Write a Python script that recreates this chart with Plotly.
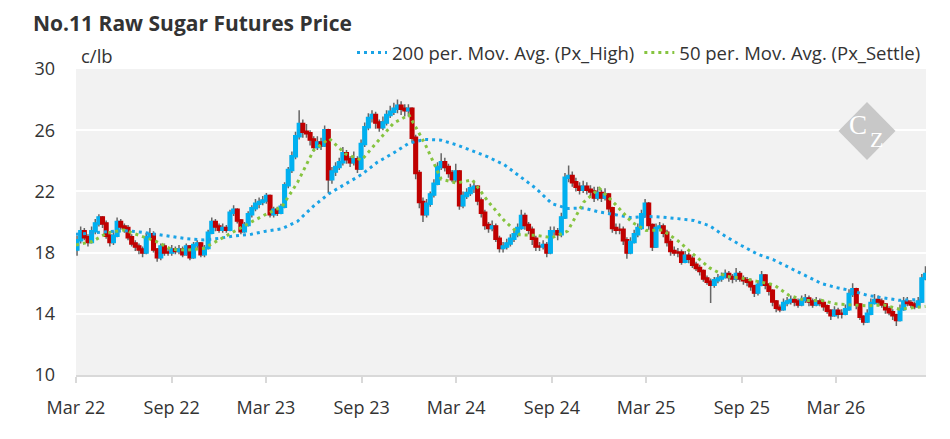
import pandas as pd
import plotly.graph_objects as go

# ---------------- data (weekly candles) ----------------
week_start = "2022-03-03"

open_ = [18.2,18.8,19.4,19.0,18.7,19.4,19.9,20.3,19.9,19.1,18.7,19.1,20.0,19.7,19.6,19.0,18.6,18.4,18.2,18.0,
         19.0,19.2,18.2,17.7,18.4,18.0,18.0,18.2,18.1,18.2,17.9,18.4,17.7,18.5,18.6,17.9,18.3,19.3,20.0,19.7,
         19.5,19.6,19.5,20.6,20.8,20.1,19.4,19.8,20.5,20.9,21.2,21.3,21.4,21.7,20.5,20.8,20.6,21.0,22.4,23.4,
         24.3,25.6,26.4,25.9,25.8,25.4,24.9,25.2,25.0,26.0,22.8,23.3,23.6,23.9,24.5,24.1,23.9,24.1,23.5,25.1,
         26.2,26.8,27.0,26.5,26.2,26.5,27.0,27.2,27.4,27.6,27.4,27.3,27.4,25.5,23.2,21.3,20.5,21.2,21.8,22.5,
         23.6,23.9,23.6,23.2,22.8,23.3,21.1,21.7,21.9,22.2,22.3,21.4,20.6,19.8,19.6,19.7,18.9,18.3,18.4,18.6,
         18.9,19.2,19.6,20.4,19.8,19.5,18.9,18.4,18.4,18.5,18.0,19.4,19.4,19.2,20.3,22.9,23.0,22.6,22.3,22.1,
         22.3,22.1,22.0,21.6,21.9,21.6,21.8,20.9,19.6,19.5,19.5,18.8,18.0,18.7,19.2,19.6,20.5,21.2,19.8,18.4,
         19.6,19.7,19.3,18.7,18.1,18.0,18.0,17.4,17.8,17.6,17.2,17.0,16.8,16.3,16.1,15.9,16.2,16.3,16.4,16.6,
         16.4,16.3,16.6,16.3,16.2,16.1,15.8,15.4,15.9,16.5,15.9,15.5,14.8,14.4,14.3,14.7,14.8,14.9,14.8,14.6,
         14.9,15.0,14.8,14.6,14.8,14.7,14.5,14.2,13.9,14.2,14.0,14.0,14.3,15.3,15.6,14.6,13.8,13.5,14.0,14.7,
         14.9,14.8,14.6,14.3,14.1,13.9,13.6,14.3,14.8,14.7,14.6,14.5,14.8,16.3]

close = [18.8,19.4,19.0,18.7,19.4,19.9,20.3,19.9,19.1,18.7,19.1,20.0,19.7,19.6,19.0,18.6,18.4,18.2,18.0,19.0,
         19.2,18.2,17.7,18.4,18.0,18.0,18.2,18.1,18.2,17.9,18.4,17.7,18.5,18.6,17.9,18.3,19.3,20.0,19.7,19.5,
         19.6,19.5,20.6,20.8,20.1,19.4,19.8,20.5,20.9,21.2,21.3,21.4,21.7,20.5,20.8,20.6,21.0,22.4,23.4,24.3,
         25.6,26.4,25.9,25.8,25.4,24.9,25.2,25.0,26.0,22.8,23.3,23.6,23.9,24.5,24.1,23.9,24.1,23.5,25.1,26.2,
         26.8,27.0,26.5,26.2,26.5,27.0,27.2,27.4,27.6,27.4,27.3,27.4,25.5,23.2,21.3,20.5,21.2,21.8,22.5,23.6,
         23.9,23.6,23.2,22.8,23.3,21.1,21.7,21.9,22.2,22.3,21.4,20.6,19.8,19.6,19.7,18.9,18.3,18.4,18.6,18.9,
         19.2,19.6,20.4,19.8,19.5,18.9,18.4,18.4,18.5,18.0,19.4,19.4,19.2,20.3,22.9,23.0,22.6,22.3,22.1,22.3,
         22.1,22.0,21.6,21.9,21.6,21.8,20.9,19.6,19.5,19.5,18.8,18.0,18.7,19.2,19.6,20.5,21.2,19.8,18.4,19.6,
         19.7,19.3,18.7,18.1,18.0,18.0,17.4,17.8,17.6,17.2,17.0,16.8,16.3,16.1,15.9,16.2,16.3,16.4,16.6,16.4,
         16.3,16.6,16.3,16.2,16.1,15.8,15.4,15.9,16.5,15.9,15.5,14.8,14.4,14.3,14.7,14.8,14.9,14.8,14.6,14.9,
         15.0,14.8,14.6,14.8,14.7,14.5,14.2,13.9,14.2,14.0,14.0,14.3,15.3,15.6,14.6,13.8,13.5,14.0,14.7,14.9,
         14.8,14.6,14.3,14.1,13.9,13.6,14.3,14.8,14.7,14.6,14.5,14.8,16.3,16.6]

high = [19.1,19.7,19.6,19.2,19.7,20.2,20.5,20.4,20.1,19.3,19.4,20.3,20.2,19.9,19.8,19.2,18.8,18.6,18.4,19.3,
        19.6,19.4,18.3,18.6,18.6,18.3,18.5,18.4,18.5,18.4,18.6,18.5,18.7,18.8,18.7,18.5,19.5,20.3,20.2,19.9,
        19.9,19.8,20.8,21.1,20.9,20.2,20.0,20.7,21.1,21.5,21.6,21.7,21.9,21.8,21.0,21.0,21.2,22.6,23.6,24.6,
        25.9,27.3,26.7,26.4,26.0,25.6,25.6,25.5,26.3,26.1,23.6,23.9,24.2,24.9,24.7,24.3,24.6,24.3,25.4,26.5,
        27.1,27.3,27.2,26.7,26.9,27.3,27.6,27.8,28.0,27.9,27.7,27.7,27.5,25.7,23.4,21.6,21.5,22.0,22.8,23.9,
        24.5,24.2,23.8,23.4,23.8,23.4,22.0,22.2,22.5,22.7,22.4,21.6,20.8,20.0,20.1,19.9,19.1,18.7,18.9,19.2,
        19.5,19.9,20.8,20.6,20.0,19.7,19.1,18.7,18.8,18.7,19.7,19.7,19.6,20.6,23.2,23.7,23.3,22.9,22.6,22.7,
        22.6,22.4,22.3,22.3,22.1,22.2,21.9,21.0,19.9,19.9,19.7,19.0,19.0,19.5,19.9,20.8,21.5,21.3,19.9,19.9,
        20.0,19.9,19.5,18.9,18.4,18.3,18.2,18.1,18.0,17.8,17.4,17.2,16.9,16.5,16.3,16.4,16.6,16.7,16.9,16.8,
        16.6,17.0,16.8,16.5,16.4,16.3,15.9,16.2,16.8,16.6,16.0,15.6,14.9,14.6,15.0,15.1,15.2,15.1,15.0,15.2,
        15.3,15.2,15.0,15.1,15.0,14.9,14.6,14.3,14.5,14.4,14.3,14.6,15.6,16.0,15.7,14.7,13.9,14.3,15.0,15.3,
        15.2,15.0,14.7,14.5,14.3,14.0,14.6,15.1,15.1,14.9,14.8,15.1,16.6,17.1]

low = [17.8,18.6,18.8,18.4,18.6,19.2,19.7,19.6,18.9,18.4,18.5,19.0,19.5,19.3,18.8,18.4,18.1,17.9,17.7,17.9,
       18.9,18.0,17.4,17.5,17.8,17.8,17.8,17.9,17.9,17.7,17.8,17.5,17.6,18.2,17.7,17.7,18.2,19.2,19.4,19.3,
       19.3,19.3,19.4,20.4,19.9,19.2,19.3,19.7,20.3,20.7,20.9,21.1,21.2,20.3,20.3,20.4,20.5,20.9,22.2,23.2,
       24.1,25.4,25.5,25.5,25.0,24.6,24.7,24.7,24.9,21.9,22.5,23.0,23.4,23.7,23.8,23.6,23.7,23.2,23.4,24.9,
       26.0,26.5,26.1,25.9,26.0,26.3,26.8,27.0,27.1,27.0,26.9,26.9,25.2,22.8,20.9,20.0,20.3,21.0,21.6,22.4,
       23.4,23.3,22.9,22.6,22.6,20.8,20.9,21.5,21.7,21.9,21.1,20.3,19.5,19.3,19.4,18.7,18.0,18.0,18.2,18.4,
       18.7,19.0,19.5,19.5,19.2,18.5,18.1,18.1,18.2,17.7,17.9,19.1,18.8,19.0,20.2,22.6,22.3,22.0,21.8,21.9,
       21.8,21.6,21.3,21.4,21.3,21.4,20.6,19.3,19.2,19.2,18.5,17.6,17.9,18.6,19.0,19.5,20.3,19.5,18.1,18.3,
       19.4,19.0,18.4,17.8,17.8,17.7,17.2,17.3,17.3,17.0,16.8,16.5,16.1,15.9,14.7,15.7,16.0,16.1,16.3,16.1,
       16.0,16.1,16.1,15.9,15.8,15.5,15.1,15.2,15.8,15.6,15.2,14.5,14.1,14.1,14.2,14.5,14.6,14.5,14.4,14.5,
       14.7,14.5,14.4,14.5,14.5,14.2,14.0,13.6,13.8,13.7,13.7,13.9,14.2,15.1,14.3,13.6,13.25,13.4,13.9,14.6,
       14.5,14.4,14.0,13.9,13.6,13.2,13.5,14.2,14.5,14.4,14.3,14.4,14.7,16.2]

# moving averages (monthly points, last one at the end of data)
ma200_high = [19.2,19.3,19.37,19.43,19.35,19.2,19.04,18.9,18.83,18.93,19.1,19.2,19.4,19.56,20.05,21.05,21.87,22.5,
              23.1,23.9,24.5,25.15,25.4,25.35,25.05,24.65,24.25,23.75,23.0,22.2,21.2,20.88,20.92,20.65,20.48,
              20.28,20.37,20.32,20.22,20.1,19.75,19.05,18.45,17.9,17.53,17.03,16.47,15.98,15.72,15.5,15.2,15.05,
              14.88,14.92,14.85]
ma50_settle = [18.5,18.72,19.3,19.48,19.12,18.75,18.2,18.17,18.27,18.85,19.4,20.0,20.5,21.0,22.6,24.7,25.45,24.45,
               24.05,25.2,26.45,27.0,25.1,22.8,22.55,22.75,21.35,20.1,19.17,19.13,18.98,19.4,21.3,22.2,21.15,
               20.0,19.45,19.48,18.78,17.85,17.0,16.45,16.33,16.12,15.9,15.2,14.87,14.88,14.65,14.58,14.52,14.58,
               14.3,14.42,14.48]

tick_vals = ["2022-03-01","2022-09-01","2023-03-01","2023-09-01","2024-03-01",
             "2024-09-01","2025-03-01","2025-09-01","2026-03-01"]
tick_text = ["Mar 22","Sep 22","Mar 23","Sep 23","Mar 24","Sep 24","Mar 25","Sep 25","Mar 26"]
y_ticks = [10, 14, 18, 22, 26, 30]

# ---------------- build ----------------
dates = pd.date_range(week_start, periods=len(close), freq="7D")
ma_dates = list(pd.date_range("2022-03-01", periods=len(ma200_high) - 1, freq="MS")) + [dates[-1]]

body_hi = [max(o, c) for o, c in zip(open_, close)]
body_lo = [min(o, c) for o, c in zip(open_, close)]

BLUE = "#00b0f0"
RED = "#c00000"
WICK = "#666666"
FONT = "Open Sans"
TXT = "#333333"

# the page body adds an 8px offset; the figure is sized so the plot area lands where the reference has it
W, H = 942, 431
ML, MR, MT, MB = 68, 24, 61, 64
PW, PH = W - ML - MR, H - MT - MB


def px_x(x):  # page pixel -> paper x
    return (x - 8 - ML) / PW


def px_y(y):  # page pixel -> paper y
    return (H - MB - (y - 8)) / PH


fig = go.Figure()

# wicks (grey)
fig.add_trace(go.Candlestick(
    x=dates, open=open_, high=high, low=low, close=close,
    increasing=dict(line=dict(color=WICK, width=1.5), fillcolor=WICK),
    decreasing=dict(line=dict(color=WICK, width=1.5), fillcolor=WICK),
    showlegend=False, hoverinfo="skip", name="range"))

# bodies (coloured)
fig.add_trace(go.Candlestick(
    x=dates, open=open_, high=body_hi, low=body_lo, close=close,
    increasing=dict(line=dict(color=BLUE, width=2.5), fillcolor=BLUE),
    decreasing=dict(line=dict(color=RED, width=2.5), fillcolor=RED),
    showlegend=False, name="Px"))

fig.add_trace(go.Scatter(
    x=ma_dates, y=ma200_high, mode="lines", name="200 per. Mov. Avg. (Px_High)",
    line=dict(color="#1aa3e6", width=3, dash="3px,4px")))
fig.add_trace(go.Scatter(
    x=ma_dates, y=ma50_settle, mode="lines", name="50 per. Mov. Avg. (Px_Settle)",
    line=dict(color="#86c440", width=3, dash="3px,4px")))

fig.update_layout(
    width=W, height=H,
    margin=dict(l=ML, r=MR, t=MT, b=MB),
    paper_bgcolor="white", plot_bgcolor="#f2f2f2",
    font=dict(family=FONT, size=18, color=TXT),
    title=dict(text="<b>No.11 Raw Sugar Futures Price</b>", x=(33 - 8) / W, xref="container",
               xanchor="left", y=1 - (24 - 8) / H, yref="container", yanchor="middle",
               font=dict(family=FONT, size=21, color=TXT), pad=dict(l=0, t=0, b=0, r=0)),
    legend=dict(orientation="h", x=1.0, xanchor="right", y=px_y(53), yanchor="middle",
                font=dict(family=FONT, size=18.5, color=TXT), bgcolor="rgba(0,0,0,0)",
                itemwidth=30, traceorder="normal"),
    showlegend=True,
    hovermode=False,
    boxgap=0.0,
)

fig.update_xaxes(
    type="date", range=["2022-03-01", "2026-08-21"],
    rangeslider=dict(visible=False),
    tickvals=tick_vals, ticktext=tick_text,
    showgrid=False, showline=True, linecolor="#d9d9d9", linewidth=2,
    ticks="outside", ticklen=6, tickwidth=2, tickcolor="#d9d9d9",
    ticklabelstandoff=9, tickfont=dict(size=18, color=TXT),
    zeroline=False, fixedrange=True)

fig.update_yaxes(
    range=[10, 30], tickvals=y_ticks,
    showgrid=True, gridcolor="white", gridwidth=2,
    showline=False, zeroline=False, ticks="",
    ticklabelstandoff=20, tickfont=dict(size=18, color=TXT), fixedrange=True)

# unit label
fig.add_annotation(text="c/lb", xref="paper", yref="paper", x=px_x(79), y=px_y(56),
                   xanchor="left", yanchor="middle", showarrow=False,
                   font=dict(family=FONT, size=18.5, color=TXT))

# watermark (diamond with the "CZ" monogram)
fig.add_shape(type="path", xref="paper", yref="paper", xsizemode="pixel", ysizemode="pixel",
              xanchor=px_x(867), yanchor=px_y(131), path="M 0 29 L 28.5 0 L 0 -29 L -28.5 0 Z",
              fillcolor="#c8c8c8", line=dict(width=0), layer="above")
fig.add_annotation(text="C", xref="paper", yref="paper", x=px_x(858), y=px_y(125),
                   xanchor="center", yanchor="middle", showarrow=False,
                   font=dict(family="Liberation Serif", size=27, color="white"))
fig.add_annotation(text="Z", xref="paper", yref="paper", x=px_x(876), y=px_y(139),
                   xanchor="center", yanchor="middle", showarrow=False,
                   font=dict(family="Liberation Serif", size=22, color="white"))

fig.write_html("out.html")
